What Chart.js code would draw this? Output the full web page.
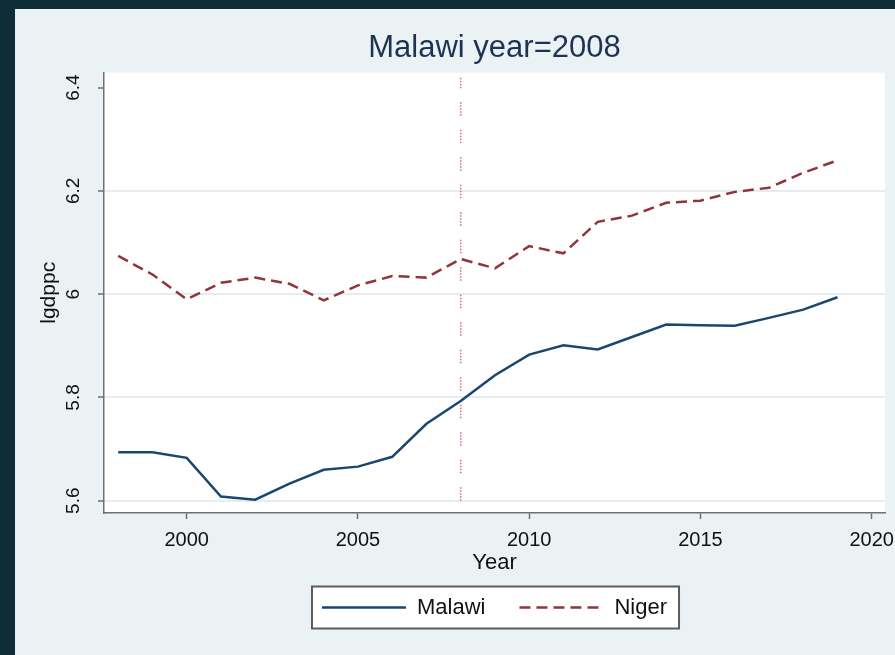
<!DOCTYPE html>
<html><head><meta charset="utf-8">
<script src="https://cdn.jsdelivr.net/npm/chart.js@4/dist/chart.umd.min.js"></script>
<style>html,body{margin:0;padding:0;background:#0d2c38;overflow:hidden}#wrap{width:895px;height:655px;position:relative}</style>
</head><body><div id="wrap"><canvas id="c"></canvas></div>
<script>
const years = [1998,1999,2000,2001,2002,2003,2004,2005,2006,2007,2008,2009,2010,2011,2012,2013,2014,2015,2016,2017,2018,2019];
const malawi = [5.694,5.694,5.683,5.608,5.602,5.633,5.660,5.666,5.685,5.749,5.793,5.843,5.883,5.901,5.893,5.917,5.941,5.940,5.939,5.954,5.970,5.994];
const niger = [6.074,6.038,5.990,6.022,6.032,6.020,5.988,6.017,6.035,6.032,6.068,6.050,6.093,6.079,6.140,6.152,6.177,6.181,6.198,6.206,6.235,6.259];
const seriesNames = ['Malawi','Niger'];
const markerYear = 2008;
const markerSpan = [5.6, 6.42];
const xTicks = [2000,2005,2010,2015,2020];
const yTicks = [5.6,5.8,6,6.2,6.4];
const titleText = 'Malawi year=2008';
const xTitle = 'Year';
const yTitle = 'lgdppc';

const FF = "'Liberation Sans', Arial, sans-serif";
const AXIS = '#707070';
const TXT = '#111111';

const bgPlugin = {
  id: 'bg',
  beforeDraw(chart) {
    const {ctx, chartArea: a, width, height} = chart;
    ctx.save();
    ctx.fillStyle = '#0d2c38'; ctx.fillRect(0, 0, width, height);
    ctx.fillStyle = '#eaf2f3'; ctx.fillRect(15, 9, width - 15, height - 9);
    ctx.fillStyle = '#ffffff'; ctx.fillRect(a.left, a.top, a.right - a.left, a.bottom - a.top);
    const hb = chart.legend && chart.legend.legendHitBoxes;
    if (hb && hb.length) {
      const l = Math.min(...hb.map(h => h.left)) - 10;
      const r = Math.max(...hb.map(h => h.left + h.width)) + 12;
      const t = hb[0].top - 10, b = hb[0].top + hb[0].height + 10;
      ctx.fillStyle = '#ffffff'; ctx.fillRect(l, t, r - l, b - t);
      ctx.strokeStyle = '#5c5c5c'; ctx.lineWidth = 2; ctx.strokeRect(l, t, r - l, b - t);
    }
    ctx.restore();
  }
};

new Chart(document.getElementById('c'), {
  type: 'line',
  data: {
    datasets: [
      {label: seriesNames[0], data: years.map((y, i) => ({x: y, y: malawi[i]})), borderColor: '#1a476f', borderWidth: 2.5, pointRadius: 0, pointStyle: 'line', tension: 0, fill: false},
      {label: seriesNames[1], data: years.map((y, i) => ({x: y, y: niger[i]})), borderColor: '#90353b', borderWidth: 2.5, borderDash: [11, 6], pointRadius: 0, pointStyle: 'line', tension: 0, fill: false},
      {label: '', data: markerSpan.map(v => ({x: markerYear, y: v})), borderColor: '#e0688a', borderWidth: 1.6, borderDash: [1.5,1.5,1.5,1.5,1.5,1.5,1.5,1.5,1.5,14], pointRadius: 0, fill: false}
    ]
  },
  options: {
    responsive: true, maintainAspectRatio: false, animation: false, events: [],
    layout: {padding: {left: 15, right: 10, top: 9, bottom: 26.5}},
    plugins: {
      tooltip: {enabled: false},
      title: {display: true, text: titleText, fullSize: false, color: '#1e3354', font: {family: FF, size: 31, weight: 'normal'}, padding: {top: 20.9, bottom: 5.5}},
      legend: {
        position: 'bottom', fullSize: false,
        labels: {
          usePointStyle: true, pointStyleWidth: 84, padding: 34, color: TXT, font: {family: FF, size: 22},
          generateLabels: chart => Chart.defaults.plugins.legend.labels.generateLabels(chart)
            .filter(it => it.text !== '')
            .map(it => {
              const ds = chart.data.datasets[it.datasetIndex];
              it.lineDash = ds.borderDash || [];
              it.lineWidth = ds.borderWidth;
              it.strokeStyle = ds.borderColor;
              it.pointStyle = 'line';
              return it;
            })
        }
      }
    },
    scales: {
      x: {
        type: 'linear', min: 1997.585, max: 2020.388,
        afterBuildTicks: s => { s.ticks = xTicks.map(v => ({value: v})); },
        ticks: {font: {family: FF, size: 20}, color: TXT, padding: 9, maxRotation: 0, minRotation: 0, autoSkip: false, callback: v => String(v)},
        grid: {drawOnChartArea: false, tickLength: 6, tickColor: AXIS, tickWidth: 1.5},
        border: {display: true, color: AXIS, width: 1.5},
        title: {display: true, text: xTitle, color: TXT, font: {family: FF, size: 22}, padding: {top: 0, bottom: -13.7}},
        afterFit: s => { s.height = 49.5; s.paddingLeft = 0; s.paddingRight = 0; }
      },
      y: {
        type: 'linear', min: 5.5762, max: 6.429,
        afterBuildTicks: s => { s.ticks = yTicks.map(v => ({value: v})); },
        ticks: {font: {family: FF, size: 19}, color: TXT, padding: 11.5, minRotation: 90, maxRotation: 90, crossAlign: 'center', autoSkip: false, callback: v => String(+(+v).toFixed(1))},
        grid: {color: c => (c.tick && c.tick.value === 6.4) ? 'rgba(0,0,0,0)' : '#e4eef0', lineWidth: 2, tickLength: 6, tickColor: AXIS, tickWidth: 1.5},
        border: {display: true, color: AXIS, width: 1.5},
        title: {display: true, text: yTitle, color: TXT, font: {family: FF, size: 21}, padding: {top: 21.4, bottom: 0}},
        afterFit: s => { s.width = 89; s.paddingTop = 0; s.paddingBottom = 0; }
      }
    }
  },
  plugins: [bgPlugin]
});
</script>
</body></html>
